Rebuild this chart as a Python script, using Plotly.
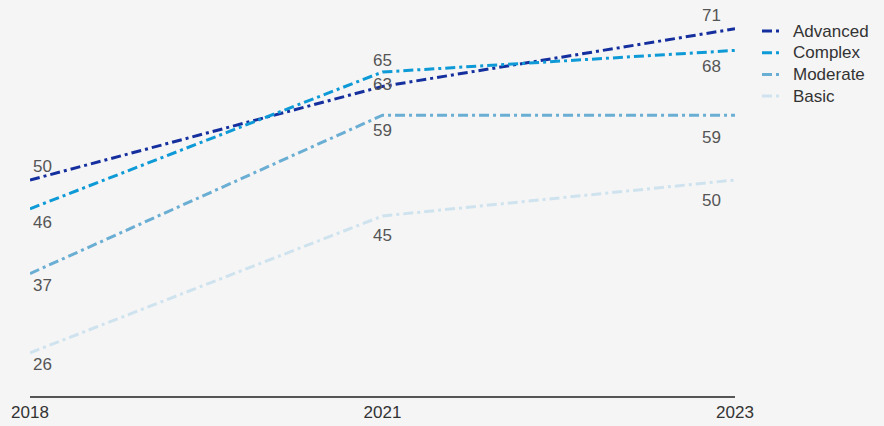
import plotly.graph_objects as go

years = ["2018", "2021", "2023"]
series_names = ["Advanced", "Complex", "Moderate", "Basic"]
advanced = [50, 63, 71]
complex_ = [46, 65, 68]
moderate = [37, 59, 59]
basic = [26, 45, 50]
values = [advanced, complex_, moderate, basic]

colors = ["#15309e", "#0e9ad6", "#6aaed4", "#cfe3ef"]
# label vertical offsets (px, positive = up) per series / year
label_shift = [
    [14, 2, 13],
    [-14, 12, -16],
    [-12, -15, -22],
    [-12, -19, -20],
]
FONT = "Liberation Sans, Arial, sans-serif"

fig = go.Figure()
xs = list(range(len(years)))
for name, vals, col in zip(series_names, values, colors):
    fig.add_trace(go.Scatter(
        x=xs, y=vals, mode="lines", name=name,
        line=dict(color=col, width=3, dash="10px,4px,3px,4px"),
        cliponaxis=False, showlegend=False,
    ))

anchors = ["left", "center", "right"]
xshifts = [1, 0, -12]
for si, vals in enumerate(values):
    for xi, v in enumerate(vals):
        fig.add_annotation(
            x=xi, y=v, text=str(v), showarrow=False,
            xanchor=anchors[xi], yanchor="middle",
            xshift=xshifts[xi], yshift=label_shift[si][xi],
            font=dict(family=FONT, size=17, color="#555555"),
        )

# manual legend (right of plot area)
for i, (name, col) in enumerate(zip(series_names, colors)):
    yoff = -31 - i * 21.7
    fig.add_shape(
        type="line", xref="paper", yref="paper",
        xsizemode="pixel", ysizemode="pixel", xanchor=1, yanchor=1,
        x0=27, x1=44, y0=yoff, y1=yoff,
        line=dict(color=col, width=3, dash="10px,4px,3px,4px"),
    )
    fig.add_annotation(
        xref="paper", yref="paper", x=1, y=1, xshift=56, yshift=yoff,
        xanchor="left", yanchor="middle", showarrow=False, text=name,
        font=dict(family=FONT, size=17, color="#333333"),
    )

fig.update_layout(
    width=884, height=426,
    margin=dict(l=30, r=149, t=0, b=30),
    paper_bgcolor="#f5f5f5", plot_bgcolor="#f5f5f5",
    font=dict(family=FONT, size=17, color="#333333"),
    showlegend=False,
    xaxis=dict(
        range=[0, 2], tickvals=xs, ticktext=years,
        showgrid=False, zeroline=False, showline=True,
        linecolor="#555555", linewidth=1.5, ticks="", ticklen=0,
        tickfont=dict(size=17, color="#333333"),
    ),
    yaxis=dict(range=[20, 75], visible=False, showgrid=False, zeroline=False),
)

fig.write_html("out.html")
